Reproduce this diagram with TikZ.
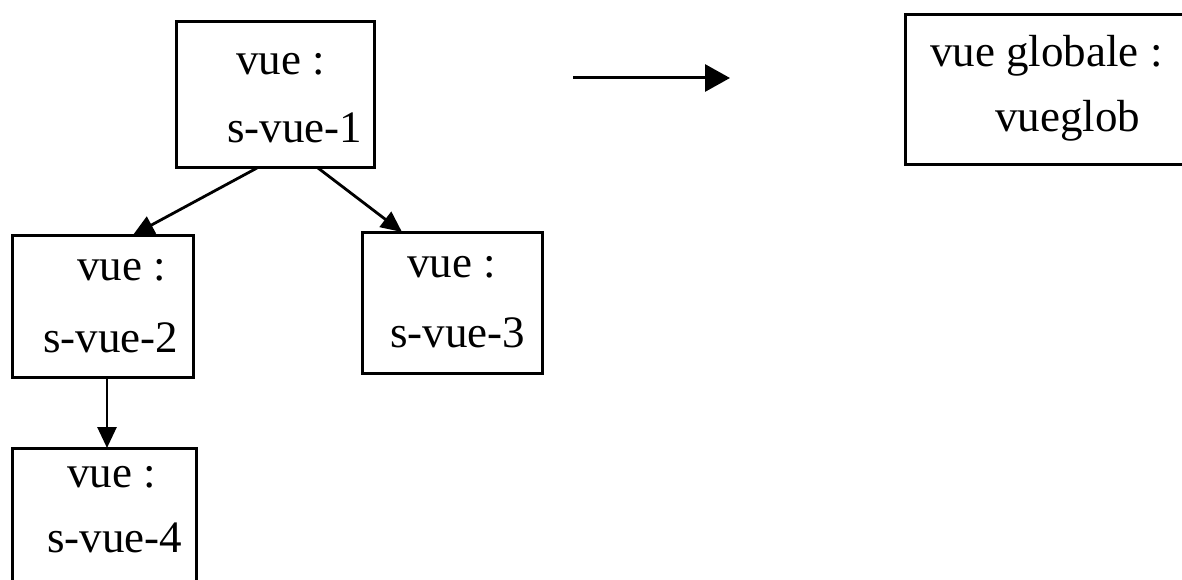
\documentclass[tikz,border=0pt]{standalone}
\usepackage{fontspec}
\setmainfont{Liberation Serif}
\usetikzlibrary{arrows.meta}
\begin{document}
\begin{tikzpicture}[x=1pt,y=-1pt,
  box/.style={draw=black, line width=3pt, inner sep=0pt, outer sep=0pt, rectangle},
  txt/.style={inner sep=0pt, anchor=base west, font=\fontsize{45}{54}\selectfont},
  arr/.style={draw=black, line width=2.8pt, -{Triangle[length=21pt,width=19pt]}},
  bigarr/.style={draw=black, line width=3pt, -{Triangle[length=25pt,width=27pt]}}]
\path[use as bounding box] (0,0) rectangle (1182,580);
\fill[white] (0,0) rectangle (1182,580);
\clip (0,0) rectangle (1182,580);
% boxes
\node[box, minimum width=198pt, minimum height=146pt] (b1) at (275,95) {};
\node[box, minimum width=181pt, minimum height=142pt] (b2) at (102.5,306) {};
\node[box, minimum width=180pt, minimum height=141pt] (b3) at (452,302.5) {};
\node[box, minimum width=184pt, minimum height=162pt] (b4) at (104,529) {};
\node[box, minimum width=305pt, minimum height=150pt] (bg) at (1057.5,90) {};
% texts
\node[txt] (t1a) at (236,75) {vue :};
\node[txt] (t1b) at (227,143) {s-vue-1};
\node[txt] (t2a) at (77,280) {vue :};
\node[txt] (t2b) at (43,352) {s-vue-2};
\node[txt] (t3a) at (407,277) {vue :};
\node[txt] (t3b) at (390,347) {s-vue-3};
\node[txt] (t4a) at (67,487) {vue :};
\node[txt] (t4b) at (47,552) {s-vue-4};
\node[txt] (tga) at (930,67) {vue globale :};
\node[txt] (tgb) at (995,132) {vueglob};
% connectors
\draw[arr] ([xshift=-18pt]b1.south) -- ([xshift=30.5pt]b2.north);
\draw[arr] ([xshift=43pt]b1.south) -- ([xshift=-50pt]b3.north);
\draw[arr] ([xshift=4.5pt]b2.south) -- ([xshift=3pt]b4.north);
\coordinate (a0) at (573,78);
\coordinate (a1) at (730,78);
\draw[bigarr] (a0) -- (a1);
\end{tikzpicture}
\end{document}
